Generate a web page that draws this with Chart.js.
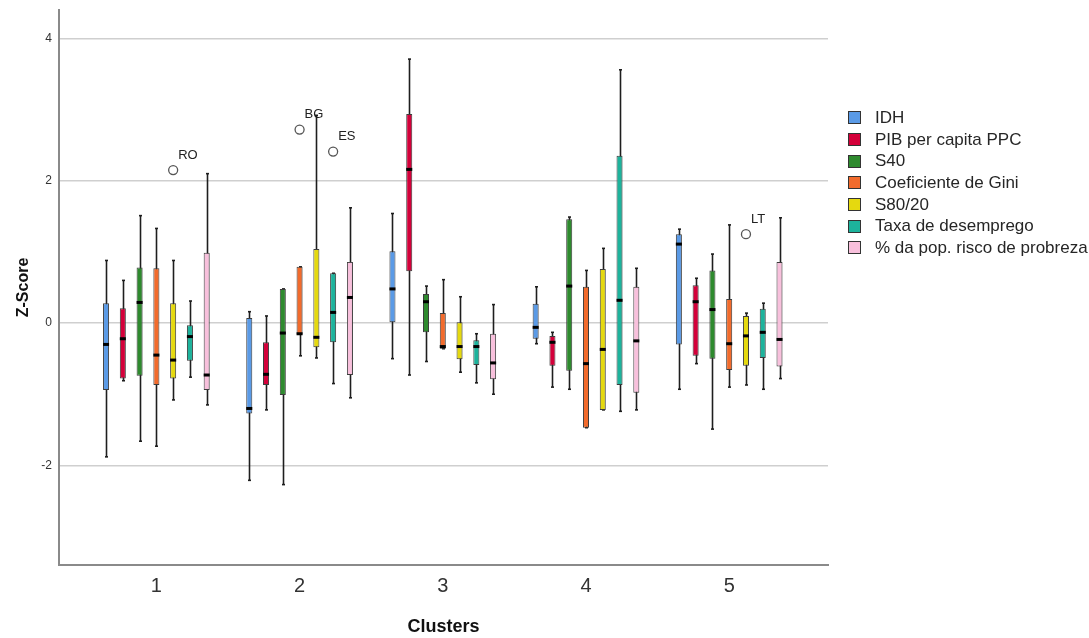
<!DOCTYPE html>
<html>
<head>
<meta charset="utf-8">
<script src="https://cdn.jsdelivr.net/npm/chart.js@4.4.1/dist/chart.umd.min.js"></script>
<style>
  html, body { margin: 0; padding: 0; background: #fff; }
  #wrap { position: relative; width: 1089px; height: 638px; overflow: hidden; }
  #legend { position: absolute; left: 848px; top: 107px; font: 17px 'Liberation Sans', Arial, sans-serif; color: #262626; }
  #legend div { height: 21.7px; display: flex; align-items: center; white-space: nowrap; }
  #legend span.sw { display: inline-block; width: 13px; height: 13px; border: 1px solid #333; box-sizing: border-box; margin-right: 14px; }
</style>
</head>
<body>
<div id="wrap">
  <canvas id="myChart" width="1089" height="638"></canvas>
  <div id="legend"></div>
</div>
<script>
// clusters on the x axis
const clusters = ['1', '2', '3', '4', '5'];
const yTicks = [-2, 0, 2, 4];

// each entry: [min, q1, median, q3, max] per cluster
const idh      = [[-1.88, -0.94, -0.30, 0.28, 0.88], [-2.21, -1.27, -1.20, 0.07, 0.16], [-0.50, 0.00, 0.48, 1.01, 1.54], [-0.29, -0.22, -0.06, 0.27, 0.51], [-0.93, -0.30, 1.11, 1.25, 1.32]];
const pib      = [[-0.81, -0.78, -0.22, 0.21, 0.60], [-1.22, -0.87, -0.72, -0.27, 0.10], [-0.73, 0.73, 2.16, 2.94, 3.71], [-0.90, -0.60, -0.27, -0.18, -0.13], [-0.57, -0.46, 0.30, 0.53, 0.63]];
const s40      = [[-1.66, -0.74, 0.29, 0.78, 1.51], [-2.27, -1.01, -0.14, 0.48, 0.48], [-0.54, -0.13, 0.30, 0.41, 0.52], [-0.93, -0.67, 0.52, 1.46, 1.49], [-1.49, -0.50, 0.19, 0.74, 0.97]];
const gini     = [[-1.73, -0.87, -0.45, 0.77, 1.33], [-0.46, -0.16, -0.15, 0.79, 0.79], [-0.36, -0.36, -0.33, 0.14, 0.61], [-1.47, -1.47, -0.57, 0.51, 0.74], [-0.90, -0.66, -0.29, 0.34, 1.38]];
const s8020    = [[-1.08, -0.78, -0.52, 0.28, 0.88], [-0.49, -0.34, -0.20, 1.04, 2.92], [-0.69, -0.51, -0.33, 0.01, 0.37], [-1.22, -1.22, -0.37, 0.76, 1.05], [-0.87, -0.60, -0.18, 0.10, 0.14]];
const taxa     = [[-0.76, -0.53, -0.19, -0.03, 0.31], [-0.85, -0.27, 0.15, 0.70, 0.70], [-0.84, -0.59, -0.33, -0.24, -0.15], [-1.24, -0.87, 0.32, 2.35, 3.56], [-0.93, -0.49, -0.13, 0.20, 0.28]];
const pobreza  = [[-1.15, -0.94, -0.73, 0.99, 2.10], [-1.05, -0.73, 0.36, 0.86, 1.62], [-1.00, -0.79, -0.56, -0.15, 0.26], [-1.22, -0.98, -0.25, 0.51, 0.77], [-0.78, -0.61, -0.23, 0.86, 1.48]];

const seriesNames = ['IDH', 'PIB per capita PPC', 'S40', 'Coeficiente de Gini', 'S80/20', 'Taxa de desemprego', '% da pop. risco de probreza'];
const seriesData = [idh, pib, s40, gini, s8020, taxa, pobreza];
const colors = ['#5a9ae6', '#d4003a', '#2e8a2e', '#f26b2c', '#e5d90f', '#1db39c', '#f8c0dc'];

// outliers: cluster index, series index, value, label
const outCluster = [0, 1, 1, 4];
const outSeries  = [4, 3, 5, 4];
const outValue   = [2.15, 2.72, 2.41, 1.25];
const outLabel   = ['RO', 'BG', 'ES', 'LT'];

const FONT = "'Liberation Sans', Arial, sans-serif";

const datasets = seriesData.map((s, d) => ({
  label: seriesNames[d],
  data: s.map((v, i) => ({ x: i + 1, y: [v[1], v[3]] })),
  backgroundColor: colors[d],
  borderColor: '#3c3c3c',
  borderWidth: 1,
  borderSkipped: false,
  categoryPercentage: 0.82,
  barPercentage: 0.36
}));

const boxPlugin = {
  id: 'boxExtras',
  beforeDatasetsDraw(chart) {
    const ctx = chart.ctx, ys = chart.scales.y;
    ctx.save();
    ctx.strokeStyle = '#1e1e1e';
    ctx.lineWidth = 1.6;
    seriesData.forEach((s, d) => {
      const meta = chart.getDatasetMeta(d);
      s.forEach((v, i) => {
        const bar = meta.data[i];
        const x = Math.round(bar.x) + 0.5;
        ctx.beginPath();
        ctx.moveTo(x, ys.getPixelForValue(v[0]));
        ctx.lineTo(x, ys.getPixelForValue(v[4]));
        ctx.stroke();
        [v[0], v[4]].forEach(e => {
          const y = ys.getPixelForValue(e);
          ctx.beginPath();
          ctx.moveTo(x - 1.5, y);
          ctx.lineTo(x + 1.5, y);
          ctx.stroke();
        });
      });
    });
    ctx.restore();
  },
  afterDatasetsDraw(chart) {
    const ctx = chart.ctx, ys = chart.scales.y;
    ctx.save();
    ctx.fillStyle = '#000';
    seriesData.forEach((s, d) => {
      const meta = chart.getDatasetMeta(d);
      s.forEach((v, i) => {
        const bar = meta.data[i];
        const y = ys.getPixelForValue(v[2]);
        ctx.fillRect(bar.x - bar.width / 2, y - 1.5, bar.width, 3);
      });
    });
    outValue.forEach((v, k) => {
      const bar = chart.getDatasetMeta(outSeries[k]).data[outCluster[k]];
      const y = ys.getPixelForValue(v);
      ctx.beginPath();
      ctx.arc(bar.x, y, 4.5, 0, Math.PI * 2);
      ctx.fillStyle = '#fff';
      ctx.fill();
      ctx.strokeStyle = '#555';
      ctx.lineWidth = 1.3;
      ctx.stroke();
      ctx.fillStyle = '#222';
      ctx.font = '13px ' + FONT;
      ctx.textAlign = 'left';
      ctx.textBaseline = 'middle';
      ctx.fillText(outLabel[k], bar.x + 5, y - 15);
    });
    ctx.restore();
  }
};

const ctx = document.getElementById('myChart').getContext('2d');
new Chart(ctx, {
  type: 'bar',
  data: { datasets: datasets },
  plugins: [boxPlugin],
  options: {
    responsive: false,
    animation: false,
    layout: { padding: { top: 10, right: 261, left: 0, bottom: 0 } },
    plugins: { legend: { display: false }, tooltip: { enabled: false } },
    scales: {
      x: {
        type: 'linear',
        offset: false,
        min: 0.32,
        max: 5.69,
        afterBuildTicks: s => { s.ticks = clusters.map((c, i) => ({ value: i + 1 })); },
        afterFit: s => { s.height = 73; },
        grid: { display: false, drawTicks: false, offset: false },
        border: { color: '#8a8a8a', width: 2 },
        ticks: { callback: v => clusters[v - 1], color: '#333', font: { family: "'Liberation Sans Narrow', " + FONT, size: 20 }, padding: 9, maxRotation: 0 },
        title: { display: true, text: 'Clusters', color: '#111', font: { family: FONT, size: 18, weight: 'bold' }, padding: { top: 0, bottom: 0 } }
      },
      y: {
        min: -3.4,
        max: 4.4,
        afterBuildTicks: s => { s.ticks = yTicks.map(v => ({ value: v })); },
        afterFit: s => { s.width = 59; s.paddingTop = 0; s.paddingBottom = 0; },
        grid: { color: '#cfcfcf', lineWidth: 1.5, drawTicks: false },
        border: { color: '#8a8a8a', width: 2 },
        ticks: { color: '#333', font: { family: FONT, size: 12 }, padding: 7 },
        title: { display: true, text: 'Z-Score', color: '#111', font: { family: FONT, size: 16, weight: 'bold' }, padding: { top: 14, bottom: 0 } }
      }
    }
  }
});

// legend as html, built from the same series arrays
const leg = document.getElementById('legend');
seriesNames.forEach((n, d) => {
  const row = document.createElement('div');
  row.innerHTML = '<span class="sw" style="background:' + colors[d] + '"></span>' + n;
  leg.appendChild(row);
});
</script>
</body>
</html>
